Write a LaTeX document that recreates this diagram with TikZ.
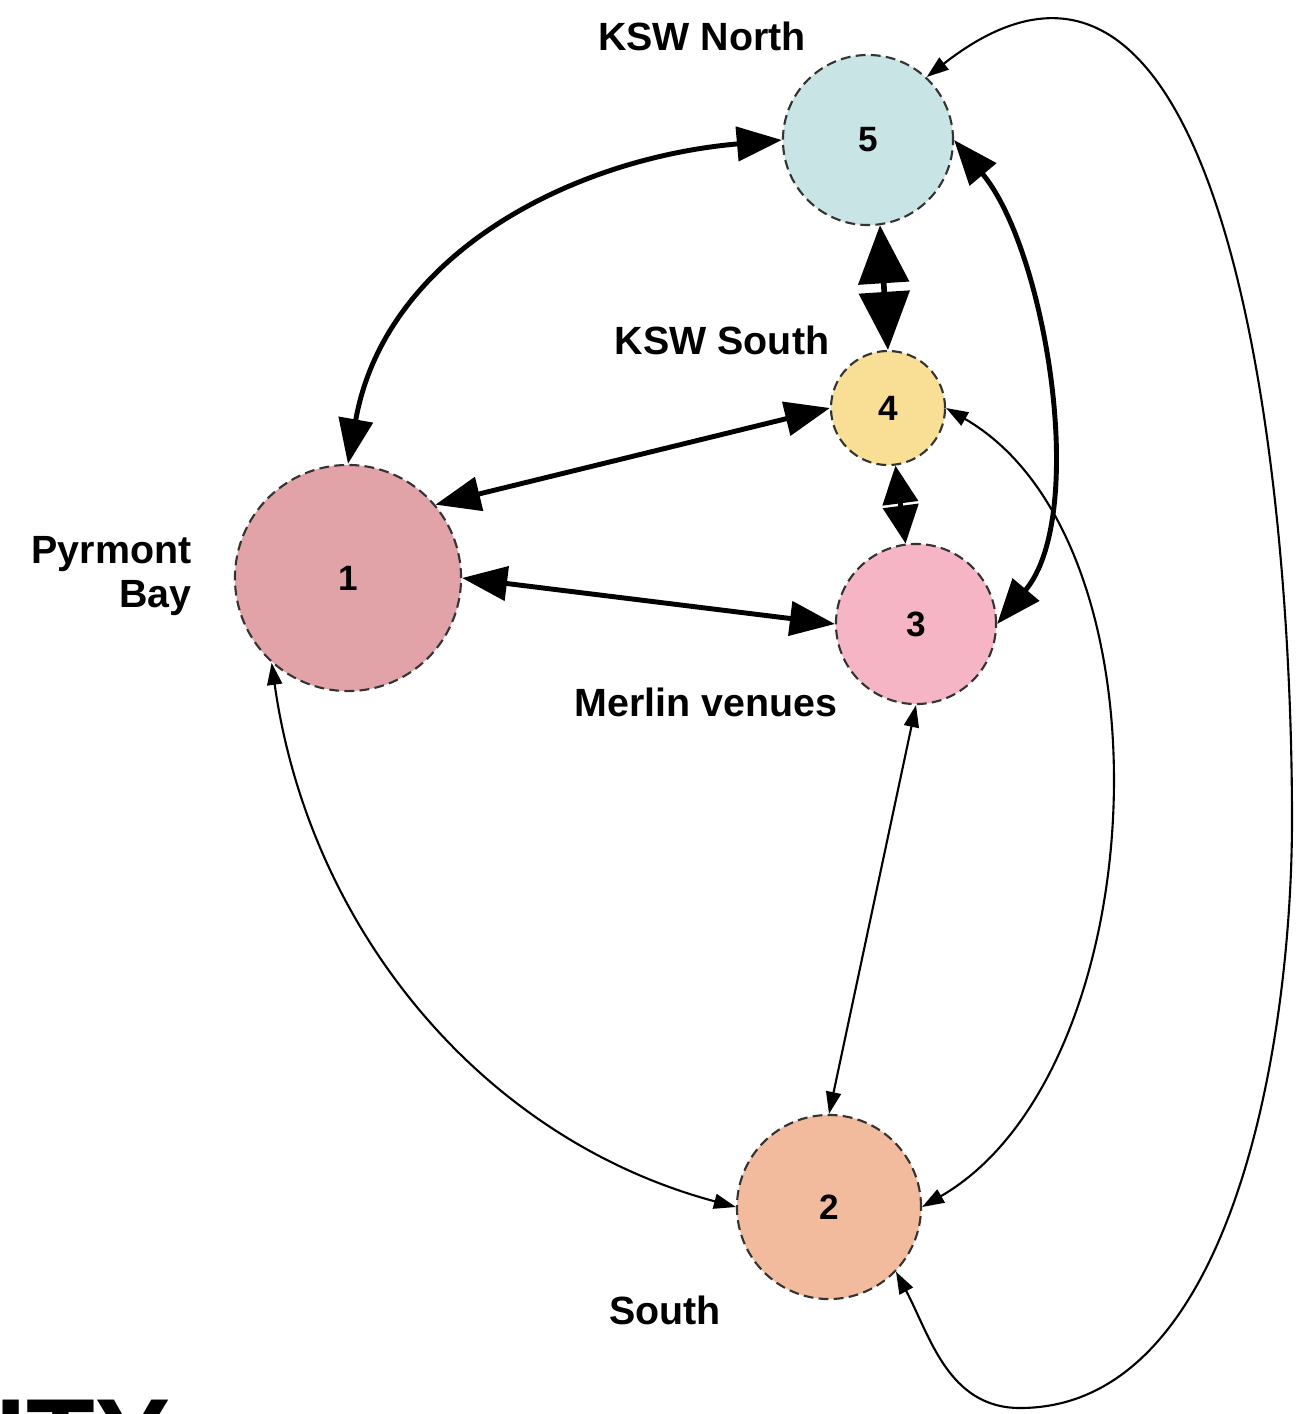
\documentclass[tikz,border=0pt]{standalone}
\usepackage{fontspec}
\setmainfont{Liberation Sans}
\definecolor{NorthTeal}{RGB}{200,228,228}
\definecolor{SouthSand}{RGB}{249,222,150}
\definecolor{MerlinPink}{RGB}{246,181,197}
\definecolor{PyrmontRose}{RGB}{226,163,168}
\definecolor{SouthPeach}{RGB}{243,187,157}
\definecolor{RingGray}{RGB}{51,51,51}
\usetikzlibrary{arrows.meta, positioning}

\tikzset{
  venue/.style={circle, draw=RingGray, line width=0.6pt,
        dash pattern=on 2.8pt off 1.5pt, inner sep=0pt,
        font=\fontsize{10}{11}\selectfont\bfseries},
  place/.style={font=\fontsize{11.2}{12.5}\selectfont\bfseries, inner sep=0pt},
  heavylink/.style={line width=1.4pt,
        {Triangle[length=4.5mm,width=3.4mm]}-{Triangle[length=4.5mm,width=3.4mm]}},
  hugelink/.style={line width=1.6pt,
        {Triangle[length=5.8mm,width=5mm]}-{Triangle[length=5.8mm,width=5mm]}},
  shortlink/.style={line width=1.4pt,
        {Triangle[length=3.8mm,width=3.5mm]}-{Triangle[length=3.8mm,width=3.5mm]}},
  lightlink/.style={line width=0.6pt,
        {Triangle[length=2.2mm,width=1.5mm]}-{Triangle[length=2.2mm,width=1.5mm]}}
}

\begin{document}
\begin{tikzpicture}[x=0.01cm, y=0.01cm]
\useasboundingbox (0,0) rectangle (1297,-1414);
\clip (0,0) rectangle (1297,-1414);

% venues
\node[venue, fill=NorthTeal, minimum size=1.7cm] (n5) at (868,-140) {5};
\node[venue, fill=SouthSand, minimum size=1.14cm] (n4) at (888,-408) {4};
\node[venue, fill=MerlinPink, minimum size=1.6cm] (n3) at (916,-624) {3};
\node[venue, fill=PyrmontRose, minimum size=2.26cm] (n1) at (348,-578) {1};
\node[venue, fill=SouthPeach, minimum size=1.84cm] (n2) at (829,-1207) {2};

% names
\node[place] (northname) at (702,-36) {KSW North};
\node[place] (kswsouthname) at (722,-340) {KSW South};
\node[place, align=right, anchor=east] (pyrmontname) at (192,-576) {Pyrmont\\Bay};
\node[place] (merlinname) at (706,-702) {Merlin venues};
\node[place] (southname) at (665,-1310) {South};
\node[font=\fontsize{32}{36}\selectfont\bfseries, anchor=north west, inner sep=0pt]
  (cutword) at (-5,-1399) {ITY};

% links
\draw[heavylink] (n1.north) to[out=80, in=185] (n5.west);
\draw[heavylink] (n1.40) -- (n4.west);
\draw[heavylink] (n1.east) -- (n3.west);
\draw[hugelink] (n5.-82) -- (n4.north);
\draw[shortlink] (n4) -- (n3);
\draw[heavylink] (n5.east) to[out=-50, in=50, looseness=0.75] (n3.east);
\draw[lightlink] (n3.south) -- (n2.north);
\draw[lightlink] (n1.-132) to[out=-82, in=165, looseness=0.95] (n2.west);
\draw[lightlink] (n4.east) to[out=-30, in=30, looseness=0.86] (n2.east);

\coordinate (loopbottom) at (1020,-1408);
\coordinate (loopright) at (1292,-820);
\draw[lightlink] (n2.-44) to[out=-62, in=180] (loopbottom)
  to[out=0, in=-90, looseness=0.85] (loopright)
  to[out=90, in=38, looseness=1.15] (n5.47);
\end{tikzpicture}
\end{document}
